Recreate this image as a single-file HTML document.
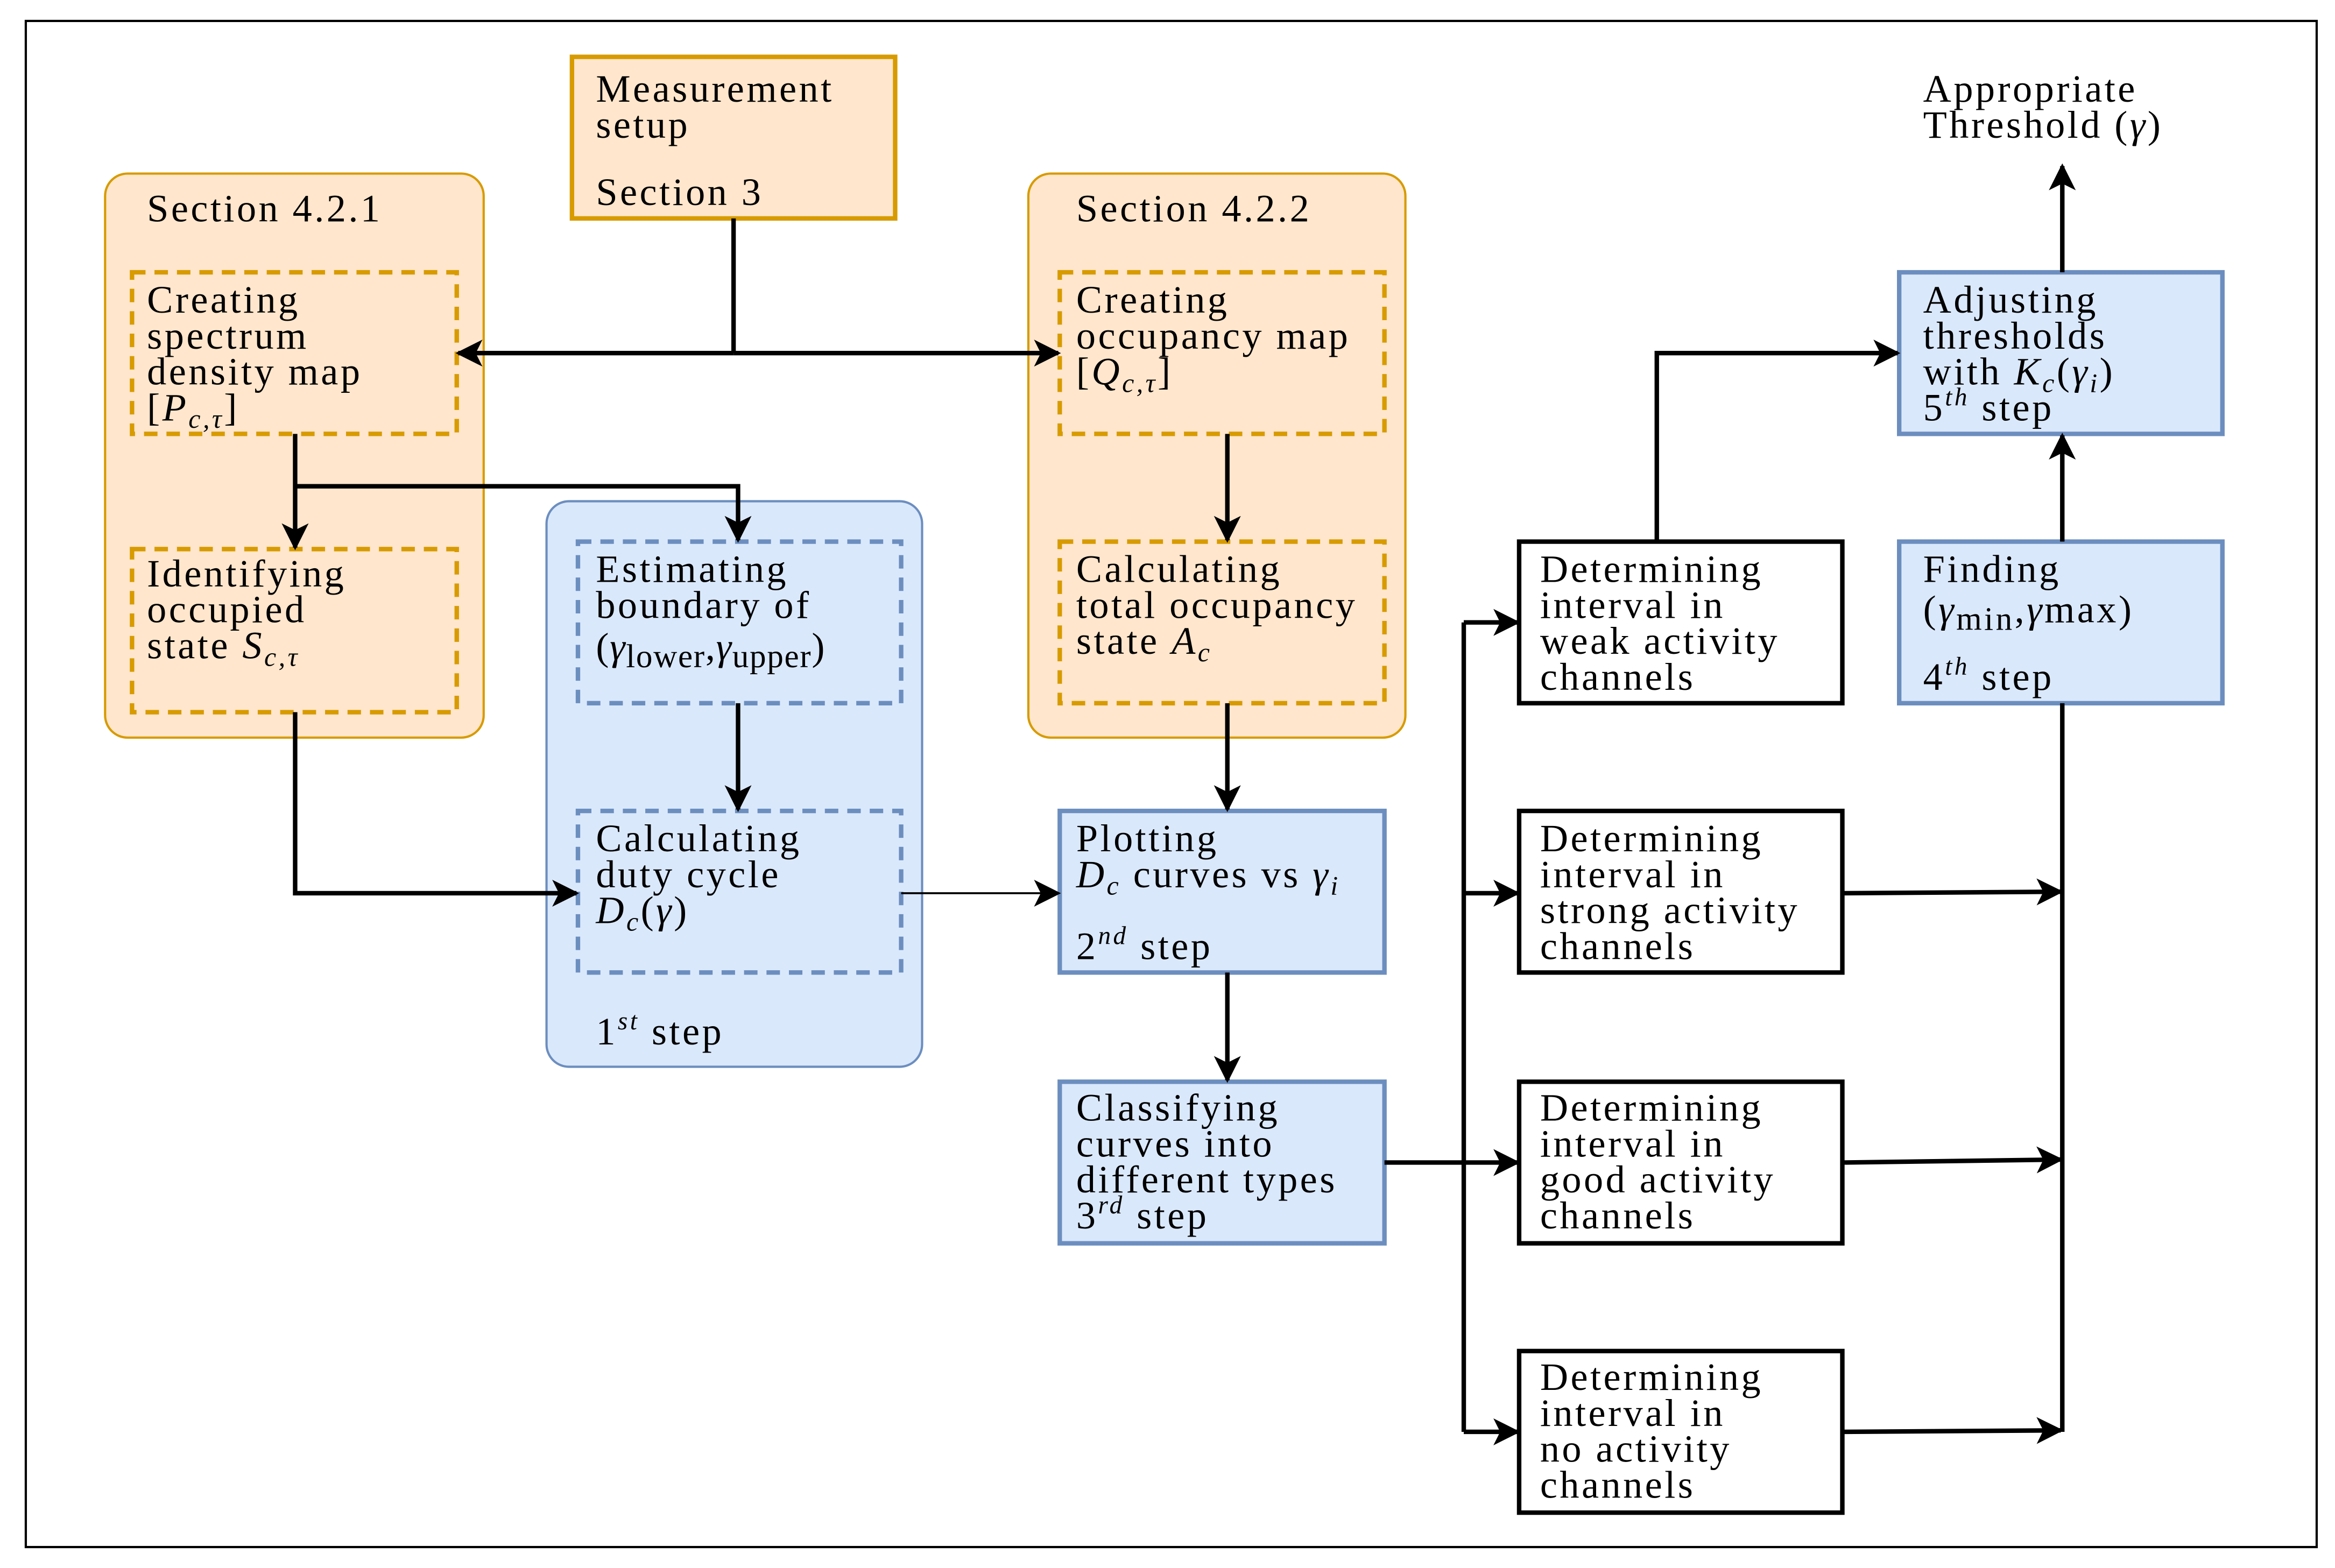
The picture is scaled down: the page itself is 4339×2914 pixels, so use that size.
<!DOCTYPE html>
<html><head><meta charset="utf-8"><style>html,body{margin:0;padding:0;background:#fff}svg{display:block}</style></head>
<body>
<svg xmlns="http://www.w3.org/2000/svg" width="4339" height="2914" viewBox="0 0 1560 1048">
<defs>
<marker id="b" viewBox="0 0 10 10" refX="9" refY="5" markerWidth="20" markerHeight="18" markerUnits="userSpaceOnUse" orient="auto"><path d="M0,0 L10,5 L0,10 L2.5,5 z" fill="#000"/></marker>
</defs>
<rect x="0" y="0" width="1560" height="1048" fill="#fff"/>
<rect x="17" y="14" width="1531" height="1020" fill="none" stroke="#000" stroke-width="1.5"/>
<g font-family="Liberation Serif, serif" font-size="26" letter-spacing="1.6" fill="#000">
<rect x="70" y="116" width="253" height="377" rx="15" fill="#ffe6cc" stroke="#d79b00" stroke-width="1.5"/>
<rect x="687" y="116" width="252" height="377" rx="15" fill="#ffe6cc" stroke="#d79b00" stroke-width="1.5"/>
<rect x="365" y="335" width="251" height="378" rx="15" fill="#dae8fc" stroke="#6c8ebf" stroke-width="1.5"/>
<text x="98" y="148">Section 4.2.1</text>
<text x="719" y="148">Section 4.2.2</text>
<text x="398" y="698">1<tspan font-style="italic" font-size="17" dy="-10">st</tspan><tspan dy="10"> step</tspan></text>
<rect x="382" y="38" width="216" height="108" fill="#ffe6cc" stroke="#d79b00" stroke-width="3"/>
<text x="398" y="68">Measurement</text><text x="398" y="92">setup</text><text x="398" y="137">Section 3</text>
<g fill="none" stroke="#d79b00" stroke-width="3" stroke-dasharray="9,6">
<rect x="88" y="182" width="217" height="108"/><rect x="88" y="367" width="217" height="109"/>
<rect x="708" y="182" width="217" height="108"/><rect x="708" y="362" width="217" height="108"/>
</g>
<g fill="none" stroke="#6c8ebf" stroke-width="3" stroke-dasharray="9,6">
<rect x="386" y="362" width="216" height="108"/><rect x="386" y="542" width="216" height="108"/>
</g>
<text x="98" y="209">Creating</text><text x="98" y="233">spectrum</text><text x="98" y="257">density map</text>
<text x="98" y="281">[<tspan font-style="italic">P</tspan><tspan font-style="italic" font-size="18" dy="5">c,τ</tspan><tspan dy="-5">]</tspan></text>
<text x="98" y="392">Identifying</text><text x="98" y="416">occupied</text>
<text x="98" y="440">state <tspan font-style="italic">S</tspan><tspan font-style="italic" font-size="18" dy="5">c,τ</tspan></text>
<text x="398" y="389">Estimating</text><text x="398" y="413">boundary of</text>
<text x="398" y="441" letter-spacing="0.6">(<tspan font-style="italic">γ</tspan><tspan font-size="22" dy="5">lower</tspan><tspan dy="-5">,</tspan><tspan font-style="italic">γ</tspan><tspan font-size="22" dy="5">upper</tspan><tspan dy="-5">)</tspan></text>
<text x="398" y="569">Calculating</text><text x="398" y="593">duty cycle</text>
<text x="398" y="617"><tspan font-style="italic">D</tspan><tspan font-style="italic" font-size="18" dy="5">c</tspan><tspan dy="-5">(</tspan><tspan font-style="italic">γ</tspan>)</text>
<text x="719" y="209">Creating</text><text x="719" y="233">occupancy map</text>
<text x="719" y="257">[<tspan font-style="italic">Q</tspan><tspan font-style="italic" font-size="18" dy="5">c,τ</tspan><tspan dy="-5">]</tspan></text>
<text x="719" y="389">Calculating</text><text x="719" y="413">total occupancy</text>
<text x="719" y="437">state <tspan font-style="italic">A</tspan><tspan font-style="italic" font-size="18" dy="5">c</tspan></text>
<g fill="#dae8fc" stroke="#6c8ebf" stroke-width="3">
<rect x="708" y="542" width="217" height="108"/><rect x="708" y="723" width="217" height="108"/>
<rect x="1269" y="362" width="216" height="108"/><rect x="1269" y="182" width="216" height="108"/>
</g>
<text x="719" y="569">Plotting</text>
<text x="719" y="593"><tspan font-style="italic">D</tspan><tspan font-style="italic" font-size="18" dy="5">c</tspan><tspan dy="-5"> curves vs </tspan><tspan font-style="italic">γ</tspan><tspan font-style="italic" font-size="18" dy="5">i</tspan></text>
<text x="719" y="641">2<tspan font-style="italic" font-size="17" dy="-10">nd</tspan><tspan dy="10"> step</tspan></text>
<text x="719" y="749">Classifying</text><text x="719" y="773">curves into</text><text x="719" y="797">different types</text>
<text x="719" y="821">3<tspan font-style="italic" font-size="17" dy="-10">rd</tspan><tspan dy="10"> step</tspan></text>
<text x="1285" y="389">Finding</text>
<text x="1285" y="416">(<tspan font-style="italic">γ</tspan><tspan font-size="22" dy="5">min</tspan><tspan dy="-5">,</tspan><tspan font-style="italic">γ</tspan>max)</text>
<text x="1285" y="461">4<tspan font-style="italic" font-size="17" dy="-10">th</tspan><tspan dy="10"> step</tspan></text>
<text x="1285" y="209">Adjusting</text><text x="1285" y="233">thresholds</text>
<text x="1285" y="257">with <tspan font-style="italic">K</tspan><tspan font-style="italic" font-size="18" dy="5">c</tspan><tspan dy="-5">(</tspan><tspan font-style="italic">γ</tspan><tspan font-style="italic" font-size="18" dy="5">i</tspan><tspan dy="-5">)</tspan></text>
<text x="1285" y="281">5<tspan font-style="italic" font-size="17" dy="-10">th</tspan><tspan dy="10"> step</tspan></text>
<text x="1285" y="68">Appropriate</text><text x="1285" y="92">Threshold (<tspan font-style="italic">γ</tspan>)</text>
<g fill="#fff" stroke="#000" stroke-width="3">
<rect x="1015" y="362" width="216" height="108"/><rect x="1015" y="542" width="216" height="108"/>
<rect x="1015" y="723" width="216" height="108"/><rect x="1015" y="903" width="216" height="108"/>
</g>
<text x="1029" y="389">Determining</text><text x="1029" y="413">interval in</text><text x="1029" y="437">weak activity</text><text x="1029" y="461">channels</text>
<text x="1029" y="569">Determining</text><text x="1029" y="593">interval in</text><text x="1029" y="617">strong activity</text><text x="1029" y="641">channels</text>
<text x="1029" y="749">Determining</text><text x="1029" y="773">interval in</text><text x="1029" y="797">good activity</text><text x="1029" y="821">channels</text>
<text x="1029" y="929">Determining</text><text x="1029" y="953">interval in</text><text x="1029" y="977">no activity</text><text x="1029" y="1001">channels</text>
</g>
<g fill="none" stroke="#000" stroke-width="3">
<path d="M490,146 V236"/>
<path d="M490,236 H306" marker-end="url(#b)"/>
<path d="M490,236 H707" marker-end="url(#b)"/>
<path d="M197,290 V366" marker-end="url(#b)"/>
<path d="M197,325 H493 V361" marker-end="url(#b)"/>
<path d="M197,476 V597 H385" marker-end="url(#b)"/>
<path d="M493,470 V541" marker-end="url(#b)"/>
<path d="M820,290 V361" marker-end="url(#b)"/>
<path d="M820,470 V541" marker-end="url(#b)"/>
<path d="M820,650 V722" marker-end="url(#b)"/>
<path d="M925,777 H1014" marker-end="url(#b)"/>
<path d="M978,416 V957"/>
<path d="M978,416 H1014" marker-end="url(#b)"/>
<path d="M978,597 H1014" marker-end="url(#b)"/>
<path d="M978,957 H1014" marker-end="url(#b)"/>
<path d="M1107,362 V236 H1268" marker-end="url(#b)"/>
<path d="M1378,362 V291" marker-end="url(#b)"/>
<path d="M1378,182 V111" marker-end="url(#b)"/>
<path d="M1378,470 V957"/>
<path d="M1231,597 L1377,596" marker-end="url(#b)"/>
<path d="M1231,777 L1377,775" marker-end="url(#b)"/>
<path d="M1231,957 L1377,956" marker-end="url(#b)"/>
</g>
<path d="M602,597 H707" fill="none" stroke="#000" stroke-width="1.3" marker-end="url(#b)"/>
</svg>
</body></html>
